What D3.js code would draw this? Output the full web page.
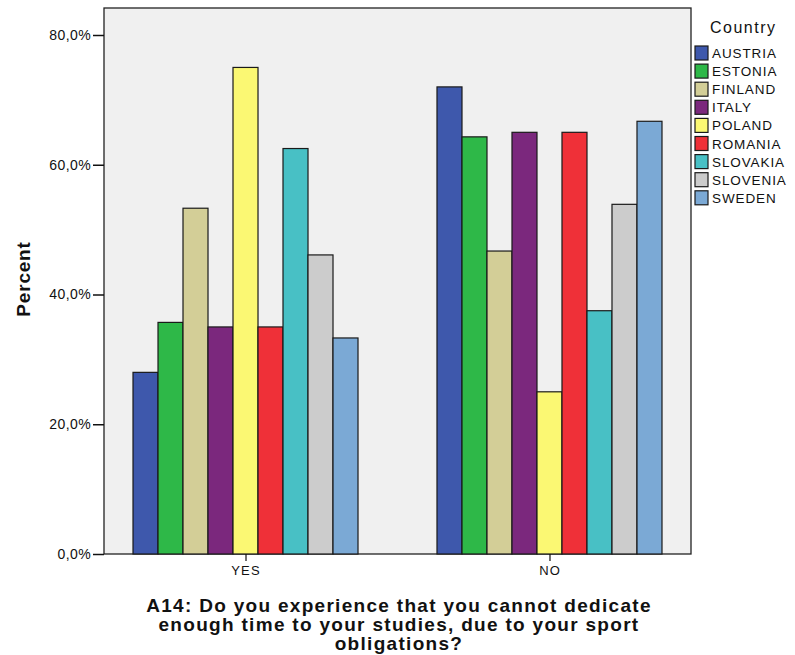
<!DOCTYPE html>
<html><head><meta charset="utf-8">
<script src="https://cdn.jsdelivr.net/npm/d3@7"></script>
<style>body{margin:0;background:#fff}svg{display:block;font-family:"Liberation Sans",Arial,sans-serif}</style>
</head><body><svg id="c" width="795" height="655"></svg>
<script>
const categories = ["YES", "NO"];
const countries = ["AUSTRIA","ESTONIA","FINLAND","ITALY","POLAND","ROMANIA","SLOVAKIA","SLOVENIA","SWEDEN"];
const yesValues = [28.0, 35.7, 53.3, 35.0, 75.0, 35.0, 62.5, 46.1, 33.3];
const noValues  = [72.0, 64.3, 46.7, 65.0, 25.0, 65.0, 37.5, 53.9, 66.7];
const colors = ["#3e58ac","#2eb848","#d3ce97","#7b287d","#fbf873","#ef3038","#48c0c5","#cccccc","#7ba9d5"];
const yTicks = [0, 20, 40, 60, 80];

const svg = d3.select("#c");
const L = 104, R = 691, T = 8, B = 554;
const y = d3.scaleLinear().domain([0, 80]).range([B, 35]);
const x = d3.scalePoint().domain(categories).range([L, R]).padding(0.4655);
const inner = d3.scaleBand().domain(countries).range([-112.5, 112.5]).padding(0);
const color = d3.scaleOrdinal().domain(countries).range(colors);

svg.append("rect").attr("x", L).attr("y", T).attr("width", R - L).attr("height", B - T)
  .attr("fill", "#f0f0f0").attr("stroke", "#222").attr("stroke-width", 1.3);

const data = [];
categories.forEach((c, ci) => {
  const vals = ci === 0 ? yesValues : noValues;
  countries.forEach((k, i) => data.push({cat: c, country: k, v: vals[i]}));
});

svg.append("g").selectAll("rect").data(data).join("rect")
  .attr("x", d => x(d.cat) + inner(d.country))
  .attr("y", d => y(d.v))
  .attr("width", inner.bandwidth())
  .attr("height", d => B - y(d.v))
  .attr("fill", d => color(d.country))
  .attr("stroke", "#1a1a1a").attr("stroke-width", 1.2);

// y axis
const ya = svg.append("g").attr("transform", `translate(${L},0)`)
  .call(d3.axisLeft(y).tickValues(yTicks).tickSize(11).tickPadding(2)
    .tickFormat(d => d3.format(".1f")(d).replace(".", ",") + "%"));
ya.select(".domain").remove();
ya.selectAll("line").attr("stroke", "#111").attr("stroke-width", 1.5);
ya.selectAll("text").attr("font-size", 14).attr("fill", "#111").attr("letter-spacing", "0.4")
  .attr("font-family", "Liberation Sans, Arial, sans-serif");

// x axis
const xa = svg.append("g").attr("transform", `translate(0,${B})`)
  .call(d3.axisBottom(x).tickSize(7).tickPadding(5));
xa.select(".domain").remove();
xa.selectAll("line").attr("stroke", "#111").attr("stroke-width", 1.2);
xa.selectAll("text").attr("font-size", 13).attr("fill", "#111").attr("letter-spacing", "1.1")
  .attr("font-family", "Liberation Sans, Arial, sans-serif");

// y label
svg.append("text").attr("transform", "translate(30,279) rotate(-90)")
  .attr("text-anchor", "middle").attr("font-weight", "bold").attr("font-size", 19)
  .attr("letter-spacing", "0.8").attr("fill", "#111").text("Percent");

// x title
const title = ["A14: Do you experience that you cannot dedicate",
               "enough time to your studies, due to your sport",
               "obligations?"];
svg.append("g").selectAll("text").data(title).join("text")
  .attr("x", 399).attr("y", (d, i) => 612 + i * 19)
  .attr("text-anchor", "middle").attr("font-weight", "bold").attr("font-size", 19)
  .attr("letter-spacing", "1.3").attr("fill", "#111").text(d => d);

// legend
svg.append("text").attr("x", 710).attr("y", 33).attr("font-size", 16)
  .attr("letter-spacing", "1.5").attr("fill", "#111").text("Country");
const lg = svg.append("g").selectAll("g").data(countries).join("g")
  .attr("transform", (d, i) => `translate(695,${46 + i * 18.1})`);
lg.append("rect").attr("width", 13).attr("height", 14)
  .attr("fill", d => color(d)).attr("stroke", "#1a1a1a").attr("stroke-width", 1.2);
lg.append("text").attr("x", 17).attr("y", 12).attr("font-size", 13.5)
  .attr("letter-spacing", "0.9").attr("fill", "#111").text(d => d);
</script></body></html>
